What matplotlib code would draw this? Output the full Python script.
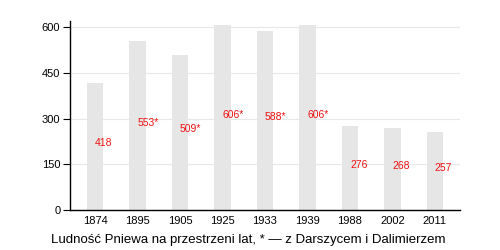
import matplotlib.pyplot as plt

years = ["1874", "1895", "1905", "1925", "1933", "1939", "1988", "2002", "2011"]
population = [418, 553, 509, 606, 588, 606, 276, 268, 257]
labels = ["418", "553*", "509*", "606*", "588*", "606*", "276", "268", "257"]
yticks = [0, 150, 300, 450, 600]

plt.rcParams['font.family'] = ['Liberation Sans', 'DejaVu Sans']

fig = plt.figure(figsize=(5, 2.5), dpi=100)
ax = fig.add_axes([0.14, 0.16, 0.78, 0.756])

x = range(len(years))
ax.bar(x, population, width=0.38, color="#e6e6e6", zorder=2)
for i, (v, lab) in enumerate(zip(population, labels)):
    ax.text(i, v / 2, lab, color="#ee1111", fontsize=7.5, ha="left", va="baseline", zorder=3)

ax.set_xlim(-0.59, len(years) - 1 + 0.59)
ax.set_ylim(0, 620)
ax.set_yticks(yticks)
ax.set_xticks(list(x))
ax.set_xticklabels(years)
ax.tick_params(axis="x", length=0, labelsize=8, pad=4)
ax.tick_params(axis="y", length=5, width=0.8, labelsize=8, pad=2)
ax.yaxis.grid(True, color="#e8e8e8", linewidth=0.8, zorder=0)
ax.set_axisbelow(True)
for s in ["top", "right"]:
    ax.spines[s].set_visible(False)
ax.spines["left"].set_linewidth(1)
ax.spines["bottom"].set_linewidth(1)

fig.text(0.496, 0.04, "Ludność Pniewa na przestrzeni lat, * — z Darszycem i Dalimierzem",
         ha="center", va="center", fontsize=9.5)

fig.savefig("out.png", dpi=100)
